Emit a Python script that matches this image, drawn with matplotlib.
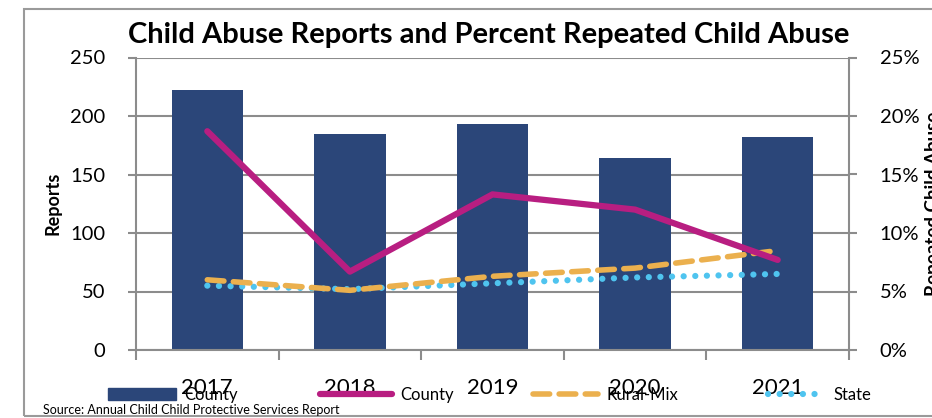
import matplotlib
matplotlib.use("Agg")
import matplotlib.pyplot as plt
import numpy as np
from matplotlib.patches import Rectangle
from matplotlib.lines import Line2D
from matplotlib.ticker import FuncFormatter, MultipleLocator

plt.rcParams['font.family'] = ['Lato', 'DejaVu Sans']

years = ['2017', '2018', '2019', '2020', '2021']
county_reports = [222, 185, 193, 164, 182]
county_pct = [18.7, 6.7, 13.3, 12.0, 7.7]
rural_mix_pct = [6.0, 5.1, 6.3, 7.0, 8.5]
state_pct = [5.5, 5.2, 5.7, 6.2, 6.5]

NAVY = '#2B4679'
MAGENTA = '#B81E81'
ORANGE = '#EBB04E'
BLUE = '#4FC4EF'
GRID = '#8C8C8C'

fig = plt.figure(figsize=(9.32, 4.18), dpi=100)
# outer border
fig.patches.append(Rectangle((24/932, 1-416/418), 1.0, (416-9)/418, transform=fig.transFigure,
                             fill=False, edgecolor='#9A9A9A', linewidth=1.5))

ax = fig.add_axes([136/932, 1-350/418, (849-136)/932, (350-57.5)/418])
x = np.arange(len(years))
ax.bar(x, county_reports, width=0.5, color=NAVY, zorder=2)
ax.set_xlim(-0.5, len(years)-0.5)
ax.set_ylim(0, 250)
ax.yaxis.set_major_locator(MultipleLocator(50))
ax.grid(axis='y', color=GRID, linewidth=1.5, zorder=0)
ax.set_axisbelow(True)
for s in ['left', 'right', 'top', 'bottom']:
    ax.spines[s].set_color(GRID)
    ax.spines[s].set_linewidth(1.5)
ax.spines['top'].set_visible(False)
ax.set_xticks(x)
ax.set_xticklabels(years, fontsize=16)
ax.set_xticks(np.arange(-0.5, len(years)), minor=True)
ax.tick_params(axis='x', which='major', length=0, pad=20)
ax.tick_params(axis='x', which='minor', length=7, width=1.5, color=GRID)
ax.tick_params(axis='y', length=6, width=1.5, color=GRID, labelsize=14.5, pad=16)
ax.set_ylabel('Reports', fontsize=13, fontweight='bold', labelpad=6)

ax2 = ax.twinx()
ax2.set_ylim(0, 25)
ax2.yaxis.set_major_locator(MultipleLocator(5))
ax2.yaxis.set_major_formatter(FuncFormatter(lambda v, p: f'{v:.0f}%'))
ax2.tick_params(axis='y', length=6, width=1.5, color=GRID, labelsize=14.5, pad=16)
for s in ['left', 'right', 'top', 'bottom']:
    ax2.spines[s].set_visible(False)
ax2.plot(x, county_pct, color=MAGENTA, linewidth=4.5, solid_capstyle='round', zorder=5)
ax2.plot(x, rural_mix_pct, color=ORANGE, linewidth=4, dashes=(3.0, 1.7), dash_capstyle='round', zorder=4)
ax2.plot(x, state_pct, color=BLUE, linewidth=4.5, dashes=(0.01, 1.85), dash_capstyle='round', zorder=3)

fig.text(489/932, 1-35/418, 'Child Abuse Reports and Percent Repeated Child Abuse',
         ha='center', va='center', fontsize=21, fontweight='bold')
fig.text(933/932, 0.513, 'Repeated Child Abuse', rotation=90, ha='center', va='center',
         fontsize=13.5, fontweight='bold')
fig.text(43/932, 1-410/418, 'Source: Annual Child Child Protective Services Report',
         ha='left', va='center', fontsize=9)

handles = [
    (Rectangle((0, 0), 1, 1, color=NAVY), 'County', 108, 4.1),
    (Line2D([], [], color=MAGENTA, linewidth=4.5, solid_capstyle='round'), 'County', 320, 4.3),
    (Line2D([], [], color=ORANGE, linewidth=4, dashes=(3.0, 1.7), dash_capstyle='round'), 'Rural-Mix', 533, 3.9),
    (Line2D([], [], color=BLUE, linewidth=4.5, dashes=(0.01, 1.85), dash_capstyle='round'), 'State', 768, 3.4),
]
for h, lab, xl, hl in handles:
    fig.legend([h], [lab], loc='center left', bbox_to_anchor=(xl/932, 1-395/418),
               frameon=False, fontsize=12, handlelength=hl, handletextpad=0.5,
               borderpad=0, borderaxespad=0)

fig.savefig('out.png', dpi=100)
